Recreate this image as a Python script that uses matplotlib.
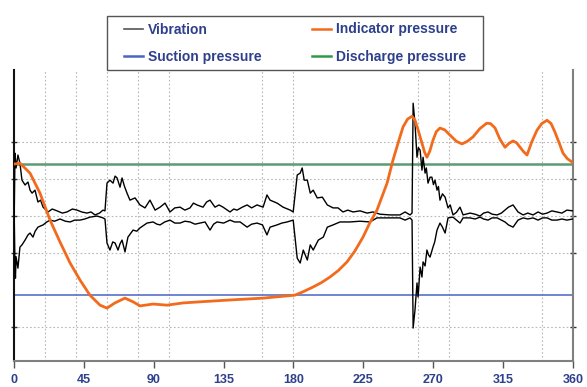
"""
Compressor valve diagnostics: vibration and pressures over one crank revolution
"""

import matplotlib
matplotlib.use("Agg")
import matplotlib.pyplot as plt
from matplotlib.lines import Line2D
from matplotlib.patches import Rectangle

# crank angle (deg) / value pairs
indicator_deg = [0.5, 3.7, 10.2, 16.6, 23.1, 29.5, 36.0, 42.4, 48.8, 55.3, 59.8, 64.9,
                 71.4, 76.6, 81.1, 89.5, 98.5, 108.8, 119.7, 139.0, 160.3, 180.9, 186.0,
                 192.6, 198.0, 203.5, 209.0, 214.5, 219.5, 224.8, 229.0, 233.8, 237.0,
                 240.3, 244.1, 248.6, 250.6, 253.5, 256.4, 258.3, 260.5, 262.8, 264.5,
                 266.0, 267.8, 269.9, 272.0, 274.4, 277.5, 280.8, 285.0, 288.6, 292.0,
                 295.7, 300.0, 304.5, 307.0, 309.9, 313.0, 316.3, 319.0, 321.5, 323.8,
                 326.0, 328.3, 330.5, 333.5, 336.9, 340.0, 343.4, 346.0, 348.5, 351.0,
                 353.7, 356.5, 359.5]
indicator_val = [1.41, 1.43, 1.16, 0.62, -0.11, -0.70, -1.27, -1.73, -2.14, -2.41, -2.49, -2.35,
                 -2.22, -2.32, -2.43, -2.38, -2.41, -2.35, -2.32, -2.27, -2.22, -2.14, -2.05,
                 -1.92, -1.80, -1.65, -1.47, -1.24, -0.95, -0.57, -0.20, 0.16, 0.52,
                 0.89, 1.51, 2.14, 2.41, 2.62, 2.70, 2.59, 2.30, 1.97, 1.72,
                 1.59, 1.75, 2.05, 2.28, 2.38, 2.33, 2.19, 2.02, 1.95, 2.02,
                 2.14, 2.36, 2.51, 2.50, 2.38, 2.08, 1.86, 1.97, 2.03, 1.98,
                 1.86, 1.74, 1.65, 2.00, 2.32, 2.50, 2.59, 2.50, 2.27, 2.00,
                 1.70, 1.55, 1.46]

vib_upper_deg = [0.0, 0.5, 1.2, 2.4, 3.7, 5.0, 7.0, 8.9, 10.2, 11.5, 13.4, 15.3, 17.0, 18.6,
                 21.8, 24.5, 27.6, 31.0, 34.0, 37.5, 40.5, 43.5, 46.9, 49.5, 52.1, 55.0,
                 57.2, 58.5, 59.8, 61.7, 63.7, 65.0, 66.3, 68.2, 69.5, 71.0, 72.7, 74.6,
                 77.9, 81.1, 84.3, 87.5, 90.8, 94.0, 97.2, 100.4, 103.5, 106.9, 110.0,
                 113.3, 115.5, 117.8, 121.7, 124.0, 126.2, 129.4, 132.0, 134.6, 139.1,
                 141.5, 143.6, 147.0, 150.1, 153.0, 156.5, 160.4, 162.9, 164.9, 169.4,
                 173.3, 177.9, 179.8, 182.4, 184.3, 185.6, 186.9, 188.9, 190.8, 192.7,
                 195.3, 198.6, 201.8, 205.5, 208.7, 211.9, 215.0, 218.4, 222.9, 227.4,
                 231.2, 235.7, 242.2, 248.6, 251.9, 255.1, 256.4, 257.1, 258.3, 259.6,
                 260.5, 261.6, 262.8, 263.5, 264.8, 265.6, 266.7, 268.0, 269.2, 270.2,
                 271.2, 272.5, 273.4, 274.4, 276.0, 277.7, 279.6, 281.0, 282.8, 285.0,
                 287.3, 289.3, 293.8, 297.0, 300.2, 302.5, 305.4, 308.0, 311.2, 314.0,
                 316.3, 318.5, 321.5, 324.7, 328.0, 331.0, 334.4, 337.6, 340.5, 343.4,
                 346.5, 349.8, 353.0, 356.2, 360.0]
vib_upper_val = [0.0, 1.70, 1.30, 1.65, 1.43, 0.97, 0.84, 0.92, 0.70, 0.62, 0.70, 0.38, 0.43, 0.24,
                 0.11, 0.19, 0.14, 0.08, 0.11, 0.19, 0.16, 0.11, 0.08, 0.11, 0.03, 0.08,
                 0.16, 0.14, 0.89, 0.97, 0.89, 1.08, 1.03, 0.78, 1.03, 0.81, 0.62, 0.43,
                 0.49, 0.30, 0.22, 0.43, 0.16, 0.24, 0.35, 0.11, 0.22, 0.24, 0.16,
                 0.22, 0.35, 0.30, 0.24, 0.38, 0.43, 0.24, 0.30, 0.24, 0.11,
                 0.19, 0.16, 0.24, 0.30, 0.22, 0.30, 0.24, 0.57, 0.43, 0.35,
                 0.24, 0.16, 0.11, 1.11, 1.16, 1.30, 0.97, 0.97, 0.62, 0.70,
                 0.49, 0.51, 0.30, 0.22, 0.22, 0.11, 0.16, 0.11, 0.14, 0.08,
                 0.11, 0.05, 0.03, 0.03, 0.11, 0.03, 0.08, 3.05, 2.51, 1.59,
                 1.85, 1.78, 1.24, 1.59, 1.16, 1.30, 0.89, 1.05, 1.05, 0.85,
                 0.97, 0.70, 0.80, 0.43, 0.60, 0.51, 0.22, 0.30, 0.03, 0.10,
                 0.24, 0.03, 0.08, 0.05, 0.0, 0.08, 0.11, 0.05, 0.03, 0.08,
                 0.16, 0.24, 0.30, 0.11, 0.03, 0.08, 0.03, 0.11, 0.05, 0.08,
                 0.14, 0.11, 0.08, 0.16, 0.14]

vib_lower_deg = [0.0, 0.5, 0.8, 1.2, 2.4, 3.7, 5.0, 7.0, 8.9, 10.2, 12.1, 13.5, 15.3, 18.6,
                 21.0, 23.1, 26.0, 29.5, 33.0, 36.0, 39.0, 42.4, 45.5, 48.8, 53.4, 57.2,
                 58.5, 59.8, 61.7, 63.5, 65.0, 66.9, 68.2, 69.5, 71.4, 73.3, 76.6, 79.0,
                 81.1, 85.6, 89.5, 92.0, 94.0, 97.0, 100.4, 103.5, 106.9, 110.0, 113.3,
                 116.5, 119.7, 123.0, 126.2, 128.5, 130.7, 135.0, 139.1, 142.0, 145.6,
                 150.1, 153.0, 156.5, 160.0, 162.9, 164.9, 169.4, 172.5, 175.9, 179.8,
                 182.4, 184.3, 186.3, 188.9, 190.8, 192.7, 196.0, 199.2, 201.8, 205.5,
                 210.0, 216.4, 222.9, 229.3, 233.8, 240.3, 248.6, 251.9, 255.1, 256.4,
                 257.1, 258.3, 259.6, 260.3, 261.6, 262.8, 263.5, 264.8, 266.0, 267.0,
                 268.0, 269.9, 271.0, 272.5, 274.4, 276.0, 277.7, 279.6, 282.8, 285.0,
                 287.3, 289.3, 293.8, 297.0, 300.2, 302.5, 305.4, 308.0, 311.2, 314.0,
                 316.3, 318.5, 321.5, 324.7, 328.0, 331.0, 334.4, 337.6, 340.5, 343.4,
                 346.5, 349.8, 353.0, 356.2, 360.0]
vib_lower_val = [0.0, -1.38, -1.68, -1.10, -1.41, -0.84, -0.78, -0.65, -0.51, -0.46, -0.57, -0.41, -0.30, -0.24,
                 -0.16, -0.11, -0.14, -0.08, -0.14, -0.16, -0.11, -0.11, -0.08, -0.03, 0.0, -0.05,
                 -0.08, -0.73, -0.92, -0.70, -0.73, -0.92, -0.75, -0.65, -0.97, -0.57, -0.38, -0.41,
                 -0.32, -0.19, -0.16, -0.22, -0.24, -0.16, -0.11, -0.19, -0.19, -0.14, -0.16,
                 -0.22, -0.19, -0.16, -0.38, -0.22, -0.16, -0.19, -0.11, -0.16, -0.16,
                 -0.30, -0.22, -0.19, -0.24, -0.51, -0.30, -0.24, -0.19, -0.16, -0.11,
                 -1.14, -1.27, -0.92, -1.19, -0.78, -0.92, -0.65, -0.57, -0.30, -0.24,
                 -0.16, -0.16, -0.14, -0.16, -0.05, -0.05, -0.05, -0.11, -0.05, -0.11,
                 -3.03, -2.54, -1.81, -2.19, -1.38, -1.65, -1.24, -1.35, -0.92, -1.05,
                 -1.11, -0.84, -0.70, -0.38, -0.19, -0.30, -0.46, -0.05, -0.03, -0.11,
                 -0.19, -0.05, -0.05, -0.08, -0.03, -0.08, -0.11, -0.05, -0.05, -0.11,
                 -0.16, -0.24, -0.30, -0.11, -0.05, -0.08, -0.05, -0.11, -0.05, -0.05,
                 -0.11, -0.11, -0.08, -0.11, -0.08]

suction_level = -2.14
discharge_level = 1.41

xticks = [0, 45, 90, 135, 180, 225, 270, 315, 360]
xgrid = [20, 40, 60, 80, 100, 160, 180, 260, 280, 340]
yticks = [2, 1, 0, -1, -3]

TEXT_BLUE = '#2E3F8C'
plt.rcParams['font.family'] = ['Liberation Sans', 'DejaVu Sans']

fig = plt.figure(figsize=(5.87, 3.87), dpi=100)
ax = fig.add_axes([0.0242, 0.0672, 0.9516, 0.752])

# grid: dotted, drawn by hand since the vertical lines are irregular
for g in xgrid:
    ax.axvline(g, color='#b8b8b8', linestyle=(0, (1.5, 2)), linewidth=0.8, zorder=0)
for g in yticks:
    ax.axhline(g, color='#b8b8b8', linestyle=(0, (1.5, 2)), linewidth=0.8, zorder=0)

ax.axhline(discharge_level, color='#5C9C72', linewidth=1.8, zorder=2)
ax.axhline(suction_level, color='#4A64C4', linewidth=1.1, zorder=2)

ax.plot(vib_upper_deg, vib_upper_val, color='black', linewidth=1.0, zorder=3)
ax.plot(vib_lower_deg, vib_lower_val, color='black', linewidth=1.0, zorder=3)
ax.plot(indicator_deg, indicator_val, color='#F26B1D', linewidth=2.0, zorder=4)

ax.set_xlim(0, 360)
ax.set_ylim(-3.92, 3.95)
ax.set_xticks(xticks)
ax.set_yticks(yticks)
ax.set_yticklabels([])
ax.tick_params(axis='x', direction='out', length=5, width=1, color='#555555',
               labelsize=9, labelcolor=TEXT_BLUE, pad=4.5)
ax.tick_params(axis='y', direction='inout', length=5, width=1, color='#333333',
               left=True, right=True)
for lbl in ax.get_xticklabels():
    lbl.set_fontweight('bold')

ax.spines['top'].set_visible(False)
ax.spines['left'].set_color('#111111')
ax.spines['left'].set_linewidth(1.5)
ax.spines['right'].set_color('#808080')
ax.spines['right'].set_linewidth(1.5)
ax.spines['bottom'].set_color('#808080')
ax.spines['bottom'].set_linewidth(1.5)

# legend box: wider side padding than matplotlib's frame allows, so draw it separately
W, H = 587, 387
fig.patches.append(Rectangle((107 / W, 1 - 70 / H), 376 / W, 54 / H,
                             transform=fig.transFigure, facecolor='white',
                             edgecolor='#555555', linewidth=1.0, zorder=5))

handles = [
    Line2D([], [], color='#555555', linewidth=1.2, label='Vibration'),
    Line2D([], [], color='#4A64C4', linewidth=1.8, label='Suction pressure'),
    Line2D([], [], color='#F26B1D', linewidth=1.8, label='Indicator pressure'),
    Line2D([], [], color='#2E9A48', linewidth=1.8, label='Discharge pressure'),
]
leg = fig.legend(handles=handles, ncol=2, loc='upper left',
                 bbox_to_anchor=(124 / W, 1 - 22.5 / H), frameon=False,
                 borderpad=0, borderaxespad=0, handlelength=1.4, handletextpad=0.35,
                 columnspacing=3.6, labelspacing=0.95,
                 prop={'size': 10, 'weight': 'bold'})
leg.set_zorder(6)
for t in leg.get_texts():
    t.set_color(TEXT_BLUE)

fig.savefig('out.png', dpi=100)
